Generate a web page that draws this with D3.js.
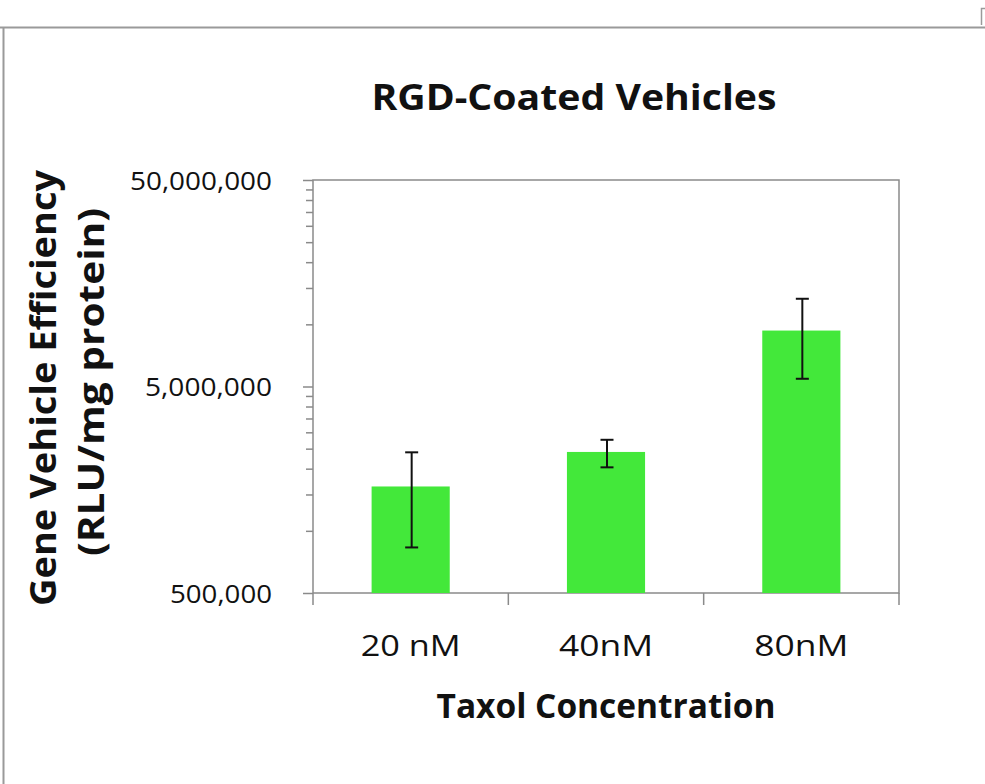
<!DOCTYPE html>
<html><head><meta charset="utf-8">
<script src="https://cdn.jsdelivr.net/npm/d3@7"></script>
<style>
html,body{margin:0;padding:0;background:#fff;}
svg{display:block;}
text{font-family:"Open Sans",Lato,sans-serif;fill:#111;}
</style></head><body>
<svg id="chart" width="985" height="784"></svg>
<script>
const categories = ["20 nM", "40nM", "80nM"];
const values = [1640000, 2410000, 9330000];
const errLow = [831000, 2030000, 5450000];
const errHigh = [2400000, 2760000, 13300000];
const yTickValues = [500000, 5000000, 50000000];
const yDomain = [500000, 50000000];
const title = "RGD-Coated Vehicles";
const xTitle = "Taxol Concentration";
const yTitle = ["Gene Vehicle Efficiency", "(RLU/mg protein)"];

const svg = d3.select("#chart");
const L = 313, R = 899, T = 180, B = 593;
const gridColor = "#8a8a8a";
const FONT = "'Open Sans',Lato,sans-serif";

// outer frame
svg.append("line").attr("x1",0).attr("x2",985).attr("y1",27.5).attr("y2",27.5).attr("stroke","#9a9a9a").attr("stroke-width",2);
svg.append("line").attr("x1",3.5).attr("x2",3.5).attr("y1",27).attr("y2",784).attr("stroke","#9a9a9a").attr("stroke-width",2);
svg.append("path").attr("d","M981.5,25 V8.5 H985").attr("fill","none").attr("stroke","#9a9a9a").attr("stroke-width",1.5);

const x = d3.scaleBand().domain(categories).range([L, R]).paddingInner(0).paddingOuter(0);
const y = d3.scaleLog().domain(yDomain).range([B, T]);

// plot box
svg.append("rect").attr("x",L).attr("y",T).attr("width",R-L).attr("height",B-T)
  .attr("fill","none").attr("stroke",gridColor).attr("stroke-width",1.5);

// bars
const barW = x.bandwidth()*0.4;
svg.selectAll("rect.bar").data(categories).enter().append("rect").attr("class","bar")
  .attr("x", d => x(d) + x.bandwidth()/2 - barW/2)
  .attr("width", barW)
  .attr("y", (d,i) => y(values[i]))
  .attr("height", (d,i) => B - y(values[i]))
  .attr("fill","#43e83a");

// error bars
const eg = svg.append("g").attr("stroke","#111").attr("stroke-width",2);
categories.forEach((c,i) => {
  const cx = x(c) + x.bandwidth()/2 + 1;
  eg.append("line").attr("x1",cx).attr("x2",cx).attr("y1",y(errLow[i])).attr("y2",y(errHigh[i]));
  eg.append("line").attr("x1",cx-6.5).attr("x2",cx+6.5).attr("y1",y(errLow[i])).attr("y2",y(errLow[i]));
  eg.append("line").attr("x1",cx-6.5).attr("x2",cx+6.5).attr("y1",y(errHigh[i])).attr("y2",y(errHigh[i]));
});

// y axis minor ticks: multiples of each major tick (Excel-style)
const minorTicks = [];
yTickValues.slice(0,-1).forEach(d => { for (let k = 2; k <= 9; k++) minorTicks.push(d*k); });
const gm = svg.append("g").attr("transform",`translate(${L},0)`)
  .call(d3.axisLeft(y).tickValues(minorTicks).tickSize(7).tickFormat(""));
gm.select(".domain").remove();
gm.selectAll("line").attr("stroke",gridColor).attr("stroke-width",1.5);

const yLabelW = {500000:102, 5000000:127, 50000000:142};
const gy = svg.append("g").attr("transform",`translate(${L},0)`)
  .call(d3.axisLeft(y).tickValues(yTickValues).tickSize(10).tickPadding(31).tickFormat(d3.format(",")));
gy.select(".domain").remove();
gy.selectAll("line").attr("stroke",gridColor).attr("stroke-width",1.5);
gy.selectAll("text").attr("font-size",26).attr("fill","#222").style("font-family",FONT)
  .attr("dy","0.36em")
  .attr("textLength", d => yLabelW[d]).attr("lengthAdjust","spacingAndGlyphs");

// x axis
const xLabelW = {"20 nM":100, "40nM":94, "80nM":94};
const gx = svg.append("g").attr("transform",`translate(0,${B})`)
  .call(d3.axisBottom(x).tickSize(0).tickPadding(42));
gx.select(".domain").remove();
gx.selectAll("text").attr("font-size",30).attr("fill","#222").style("font-family",FONT)
  .attr("textLength", d => xLabelW[d]).attr("lengthAdjust","spacingAndGlyphs");
// category boundary ticks
const bounds = categories.map(c => x(c)).concat([R]);
svg.selectAll("line.xt").data(bounds).enter().append("line").attr("class","xt")
  .attr("x1",d=>d).attr("x2",d=>d).attr("y1",B).attr("y2",B+12)
  .attr("stroke",gridColor).attr("stroke-width",1.5);

// titles
svg.append("text").attr("x",574).attr("y",110).attr("text-anchor","middle")
  .attr("font-size",36).attr("font-weight","bold")
  .attr("textLength",405).attr("lengthAdjust","spacingAndGlyphs").text(title);
svg.append("text").attr("x",606).attr("y",718).attr("text-anchor","middle")
  .attr("font-size",34).attr("font-weight","bold")
  .attr("textLength",339).attr("lengthAdjust","spacingAndGlyphs").text(xTitle);
svg.append("text").attr("transform","translate(56,388) rotate(-90)").attr("text-anchor","middle")
  .attr("font-size",35).attr("font-weight","bold")
  .attr("textLength",436).attr("lengthAdjust","spacingAndGlyphs").text(yTitle[0]);
svg.append("text").attr("transform","translate(104,382) rotate(-90)").attr("text-anchor","middle")
  .attr("font-size",35).attr("font-weight","bold")
  .attr("textLength",348).attr("lengthAdjust","spacingAndGlyphs").text(yTitle[1]);
</script>
</body></html>
